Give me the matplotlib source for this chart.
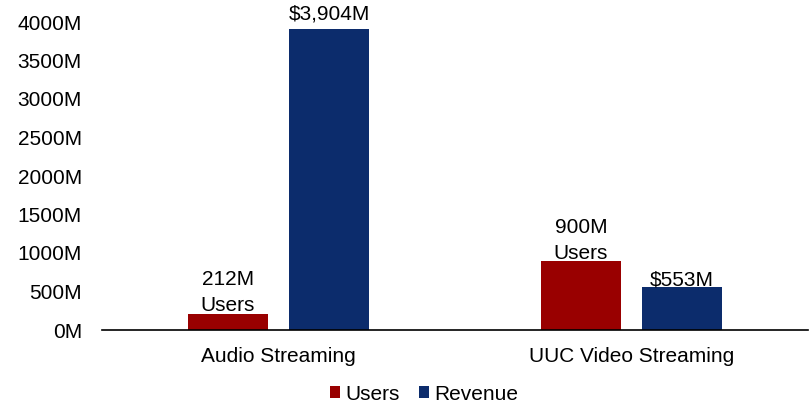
import matplotlib
matplotlib.use("Agg")
import matplotlib.pyplot as plt
import numpy as np

categories = ["Audio Streaming", "UUC Video Streaming"]
users = [212, 900]
revenue = [3904, 553]
user_labels = ["212M\nUsers", "900M\nUsers"]
revenue_labels = ["$3,904M", "$553M"]
yticks = [0, 500, 1000, 1500, 2000, 2500, 3000, 3500, 4000]

plt.rcParams['font.family'] = ['Liberation Sans', 'DejaVu Sans']
FS = 15

fig = plt.figure(figsize=(8.12, 4.04), dpi=100)
W, H = 812, 404
ax = fig.add_axes([102 / W, 74 / H, (808 - 102) / W, (330 - 22) / H])

x = np.arange(len(categories))
bw = 0.224
off = 0.143
red = "#990000"
blue = "#0C2C6C"
b1 = ax.bar(x - off, users, bw, color=red, label="Users")
b2 = ax.bar(x + off, revenue, bw, color=blue, label="Revenue")

# label baseline offsets in pixels above bar tops
user_pad_px = [3, 2]
rev_pad_px = [10, 1.5]
for xi, v, lab, p in zip(x - off, users, user_labels, user_pad_px):
    ax.annotate(lab, (xi, v), xytext=(0, p * 72 / 100), textcoords="offset points",
                ha="center", va="baseline", fontsize=FS, linespacing=1.42,
                annotation_clip=False)
for xi, v, lab, p in zip(x + off, revenue, revenue_labels, rev_pad_px):
    ax.annotate(lab, (xi, v), xytext=(0, p * 72 / 100), textcoords="offset points",
                ha="center", va="baseline", fontsize=FS, annotation_clip=False)

ax.set_xlim(-0.5, 1.5)
ax.set_ylim(0, 4000)
ax.set_yticks(yticks)
ax.set_yticklabels([f"{t}M" for t in yticks], fontsize=FS)
ax.set_xticks(x)
ax.set_xticklabels(categories, fontsize=FS)
for s in ["top", "right", "left"]:
    ax.spines[s].set_visible(False)
ax.spines["bottom"].set_linewidth(1.2)
ax.tick_params(axis="both", length=0)
ax.tick_params(axis="y", pad=14.4)
ax.tick_params(axis="x", pad=12)

fig.legend(handles=[b1, b2], labels=["Users", "Revenue"], loc="center",
           bbox_to_anchor=(424 / W, 1 - 394 / H), ncol=2, frameon=False,
           fontsize=FS, handlelength=0.5, handleheight=0.5, handletextpad=0.25,
           columnspacing=0.9, borderpad=0, borderaxespad=0)

fig.savefig("out.png", dpi=100)
